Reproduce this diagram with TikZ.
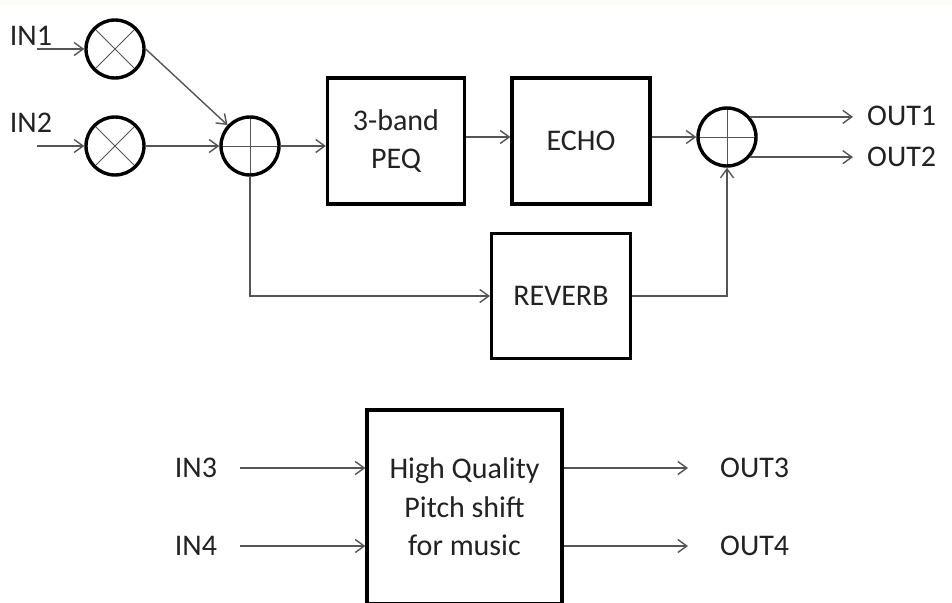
\documentclass[tikz,border=0pt]{standalone}
\usepackage{fontspec}
\setmainfont{Carlito}
\usetikzlibrary{arrows.meta,positioning,calc}
\definecolor{wire}{HTML}{555555}
\definecolor{txt}{HTML}{222222}
\definecolor{paper}{HTML}{FDFDF5}
\newcommand{\diafont}{\fontsize{30pt}{38.5pt}\selectfont}

\begin{document}
\begin{tikzpicture}[
  x=1pt, y=-1pt,
  font=\diafont, text=txt,
  box/.style={rectangle, draw=black, line width=3.2pt, minimum width=#1, align=center},
  mixer/.style={circle, draw=black, line width=3.4pt, minimum size=58pt, inner sep=0pt,
    path picture={\draw[wire, line width=1pt]
      (path picture bounding box.north west) -- (path picture bounding box.south east)
      (path picture bounding box.south west) -- (path picture bounding box.north east);}},
  adder/.style={circle, draw=black, line width=3.4pt, minimum size=58pt, inner sep=0pt,
    path picture={\draw[wire, line width=1pt]
      (path picture bounding box.north) -- (path picture bounding box.south)
      (path picture bounding box.west) -- (path picture bounding box.east);}},
  lbl/.style={inner sep=0pt},
  arr/.style={-{Straight Barb[length=9pt, width=13pt]}, line width=1.4pt, wire}
]
  \clip (0,0) rectangle (952,602);
  \fill[white] (0,0) rectangle (952,602);
  \fill[paper] (0,0) rectangle (952,5);

  % upper chain
  \node[lbl] (in1) at (31,36) {IN1};
  \node[lbl] (in2) at (31,123) {IN2};
  \coordinate (i1) at (37,49);
  \coordinate (i2) at (37,146);
  \node[mixer] (m1) at (115,49) {};
  \node[mixer] (m2) at (115,146) {};
  \node[adder] (s1) at (250,146) {};
  \node[box=137pt, minimum height=126pt] (peq) at (396,141) {3-band\\PEQ};
  \node[box=138pt, minimum height=126pt] (echo) at (581,141) {ECHO};
  \node[box=139pt, minimum height=125pt] (rev) at (561,296) {REVERB};
  \node[adder] (s2) at (727,137) {};
  \node[lbl, anchor=west] (o1) at (867,116) {OUT1};
  \node[lbl, anchor=west] (o2) at (867,157) {OUT2};

  \draw[arr] (i1) -- (m1);
  \draw[arr] (i2) -- (m2);
  \draw[arr] (m1.east) -- (s1);
  \draw[arr] (m2) -- (s1);
  \draw[arr] (s1) -- (s1 -| peq.west);
  \draw[arr] (peq.east |- s2) -- (echo.west |- s2);
  \draw[arr] (echo.east |- s2) -- (s2);
  \draw[arr] (s1.south) |- (rev.west);
  \draw[arr] (rev.east) -| (s2.south);
  \draw[arr] (s2.41.8) -- ([xshift=-14pt]s2.41.8 -| o1.west);
  \draw[arr] (s2.-41.8) -- ([xshift=-14pt]s2.-41.8 -| o2.west);

  % pitch shifter
  \node[box=195pt, minimum height=194pt] (hq) at (464.5,507) {High Quality\\Pitch shift\\for music};
  \node[lbl] (in3) at (196,468) {IN3};
  \node[lbl] (in4) at (196,546) {IN4};
  \node[lbl, anchor=west] (o3) at (720,468) {OUT3};
  \node[lbl, anchor=west] (o4) at (720,546) {OUT4};

  \draw[arr] ([xshift=23pt]in3.east) -- (in3 -| hq.west);
  \draw[arr] ([xshift=23pt]in4.east) -- (in4 -| hq.west);
  \draw[arr] (hq.east |- o3) -- ([xshift=-32pt]o3.west);
  \draw[arr] (hq.east |- o4) -- ([xshift=-32pt]o4.west);
\end{tikzpicture}
\end{document}
